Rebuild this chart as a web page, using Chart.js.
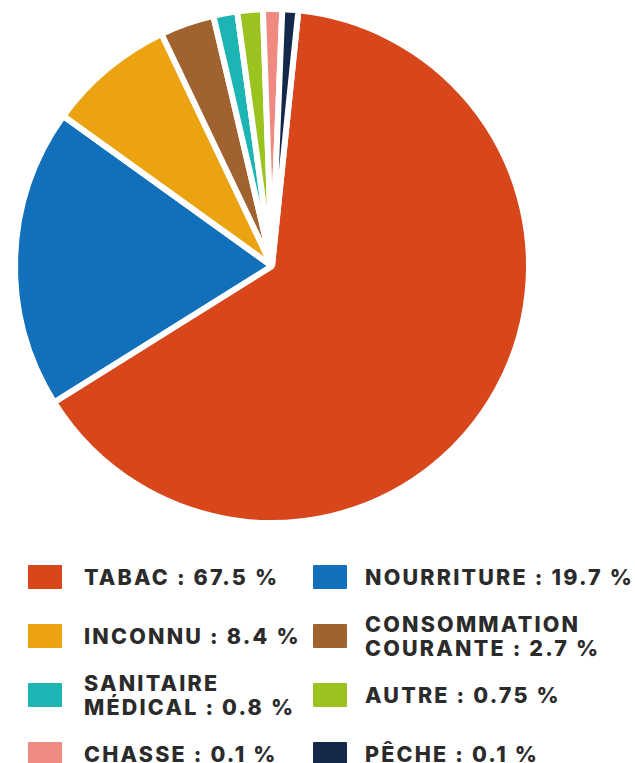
<!DOCTYPE html>
<html>
<head>
<meta charset="utf-8">
<script src="https://cdn.jsdelivr.net/npm/chart.js@4.4.1/dist/chart.umd.min.js"></script>
<style>
  html, body { margin: 0; padding: 0; background: #fff; }
  body { width: 635px; height: 763px; position: relative; overflow: hidden; }
  #pieWrap { position: absolute; left: 0; top: 0; width: 635px; height: 540px; }
  #legend {
    position: absolute; left: 28px; top: 547px; width: 607px;
    display: grid; grid-template-columns: 285px 322px; grid-auto-rows: 59px;
    font-family: Inter, "Open Sans", sans-serif; font-weight: 800; font-size: 21.5px;
    letter-spacing: 2.2px; line-height: 24px; color: #2b2b2b;
  }
  .item { display: flex; align-items: center; }
  .sw { width: 34px; height: 24px; flex: none; margin-right: 22px; border-radius: 1px; }
  .item:nth-child(even) .sw { margin-right: 18px; }
</style>
</head>
<body>
<div id="pieWrap"><canvas id="pie" width="635" height="540"></canvas></div>
<div id="legend"></div>
<script>
// categories, in drawing order (clockwise from the top)
const categories = ['Tabac', 'Nourriture', 'Inconnu', 'Consommation courante', 'Sanitaire médical', 'Autre', 'Chasse', 'Pêche']
// slice shares as drawn in the picture (angle / 360, in %)
const sliceShares = [64.4, 18.8, 8.0, 3.4, 1.5, 1.6, 1.2, 1.0]
// legend texts as printed
const legendLabels = [
    ['TABAC : 67.5 %'],
    ['NOURRITURE : 19.7 %'],
    ['INCONNU : 8.4 %'],
    ['CONSOMMATION', 'COURANTE : 2.7 %'],
    ['SANITAIRE', 'MÉDICAL : 0.8 %'],
    ['AUTRE : 0.75 %'],
    ['CHASSE : 0.1 %'],
    ['PÊCHE : 0.1 %']
]
const colors = ['#d8461c', '#1270ba', '#eba312', '#a0622e', '#1db4b4', '#9ac31f', '#f08a80', '#14294a']

new Chart(document.getElementById('pie'), {
    type: 'pie',
    data: {
        labels: categories,
        datasets: [{
            data: sliceShares,
            backgroundColor: colors,
            borderColor: '#ffffff',
            borderWidth: 6
        }]
    },
    options: {
        responsive: false,
        animation: false,
        rotation: 5.9,
        layout: { padding: { left: 0, right: 91, top: 6, bottom: 14 } },
        plugins: {
            legend: { display: false },
            tooltip: { enabled: false }
        }
    }
})

// legend built from the same arrays
const legend = document.getElementById('legend')
legendLabels.forEach((lines, i) => {
    const item = document.createElement('div')
    item.className = 'item'
    const sw = document.createElement('span')
    sw.className = 'sw'
    sw.style.background = colors[i]
    const txt = document.createElement('span')
    txt.innerHTML = lines.join('<br>')
    item.appendChild(sw)
    item.appendChild(txt)
    legend.appendChild(item)
})
</script>
</body>
</html>
